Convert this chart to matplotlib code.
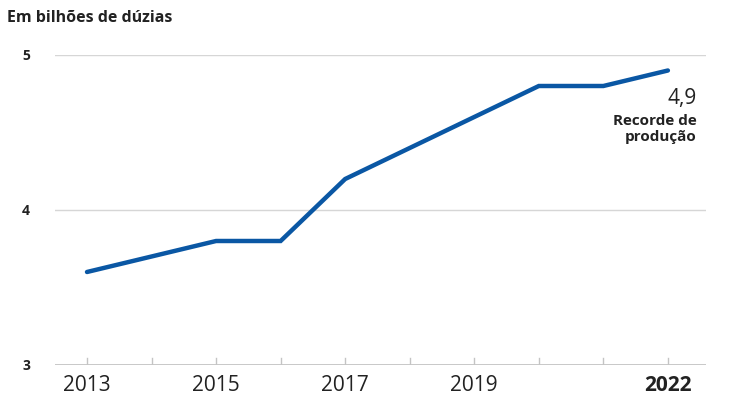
import matplotlib
matplotlib.use('Agg')
import matplotlib.pyplot as plt

# dados: producao de ovos, bilhoes de duzias
years = [2013, 2014, 2015, 2016, 2017, 2018, 2019, 2020, 2021, 2022]
values = [3.6, 3.7, 3.8, 3.8, 4.2, 4.4, 4.6, 4.8, 4.8, 4.9]
yticks = [3, 4, 5]
xtick_years = [2013, 2015, 2017, 2019, 2022]

BLUE = "#0a57a4"
plt.rcParams['font.family'] = ['Open Sans', 'DejaVu Sans']

fig = plt.figure(figsize=(7.36, 4.08), dpi=100)
ax = fig.add_axes([0.0747, 0.1054, 0.8845, 0.7598])

for y in yticks[1:]:
    ax.axhline(y, color="#d6d6d6", lw=1.0, zorder=1)
ax.axhline(3, color="#c4c4c4", lw=1.3, zorder=1)

ax.plot(years, values, color=BLUE, lw=3.2, solid_capstyle='round',
        solid_joinstyle='miter', zorder=3)

ax.set_xlim(2012.504, 2022.59)
ax.set_ylim(3, 5)
for s in ax.spines.values():
    s.set_visible(False)

# ticks anuais curtos acima da linha de base
for yr in years:
    ax.plot([yr, yr], [3, 3.045], color="#c4c4c4", lw=1.0, zorder=2)

ax.set_xticks(xtick_years)
ax.set_xticklabels([str(y) for y in xtick_years], fontsize=15, color="#222222")
ax.get_xticklabels()[-1].set_fontweight('bold')
ax.tick_params(axis='x', length=0, pad=7)

ax.set_yticks(yticks)
ax.set_yticklabels([str(y) for y in yticks], fontsize=10, fontweight='bold',
                   color="#222222")
ax.tick_params(axis='y', length=0, pad=18)

fig.text(0.0095, 0.955, "Em bilhões de dúzias", fontsize=11.5, fontweight='bold',
         color="#222222", va='center', ha='left')

ax.text(2022.45, 4.72, "4,9", fontsize=15, ha='right', va='center', color="#222222")
ax.text(2022.45, 4.52, "Recorde de\nprodução", fontsize=11, fontweight='bold',
        ha='right', va='center', color="#222222", linespacing=1.2)

fig.savefig("out.png", dpi=100)
